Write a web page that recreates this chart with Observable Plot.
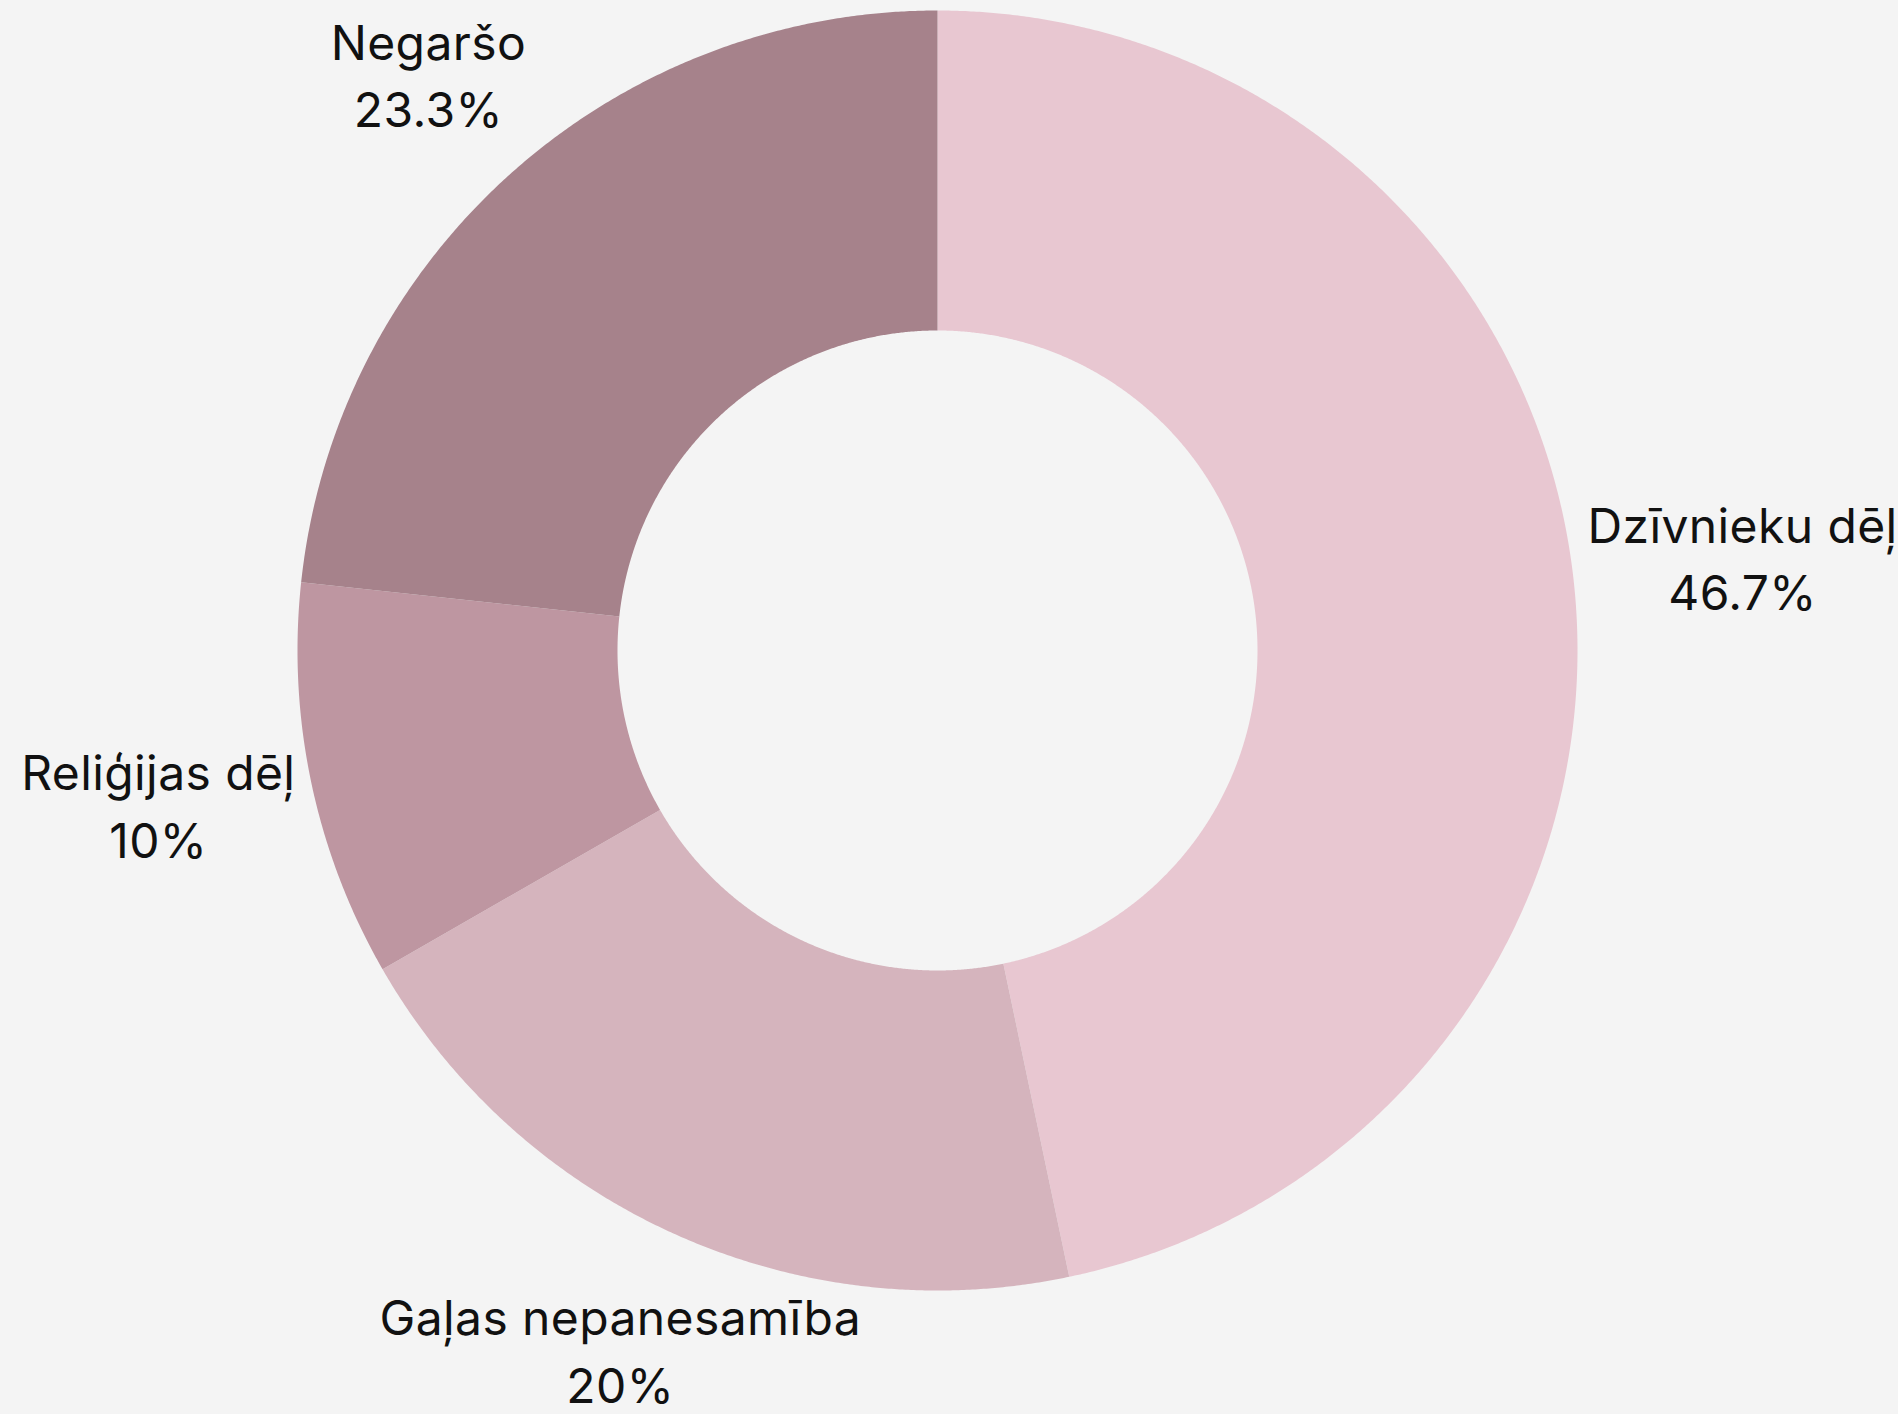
<!DOCTYPE html>
<html>
<head>
<meta charset="utf-8">
<script src="https://cdn.jsdelivr.net/npm/d3@7"></script>
<script src="https://cdn.jsdelivr.net/npm/@observablehq/plot@0.6"></script>
<style>
  html, body { margin: 0; padding: 0; background: #f4f4f4; }
  #chart svg { display: block; }
</style>
</head>
<body>
<div id="chart"></div>
<script>
// Data
const categories = ["Dzīvnieku dēļ", "Gaļas nepanesamība", "Reliģijas dēļ", "Negaršo"];
const values = [46.7, 20, 10, 23.3];
const pctLabels = ["46.7%", "20%", "10%", "23.3%"];
const colors = ["#e8c7d1", "#d5b4bd", "#be96a1", "#a6828b"];

// Layout
const W = 1898, H = 1414;
const CX = 937, CY = 650, R = 640;
const INNER = 0.5;        // inner radius fraction
const FONT_SIZE = 48;
const LINE_H = 1.41;
const FONT = "Inter, 'Noto Sans', sans-serif";
const GAP = 13;           // px between ring and label box
const BOX_H = FONT_SIZE * LINE_H + FONT_SIZE * 0.78 + 16;
const TEXT_DY = -12;

const pie = d3.pie().sort(null).value(d => d)(values);

// Slice outlines in unit coordinates (derived from pie angles)
const outline = [];
pie.forEach((p, i) => {
  const a0 = p.startAngle, a1 = p.endAngle;
  const n = Math.max(8, Math.ceil((a1 - a0) / (Math.PI / 720)));
  for (let k = 0; k <= n; k++) {
    const a = a0 + (a1 - a0) * k / n;
    outline.push({cat: categories[i], x: Math.sin(a), y: Math.cos(a)});
  }
  for (let k = n; k >= 0; k--) {
    const a = a0 + (a1 - a0) * k / n;
    outline.push({cat: categories[i], x: INNER * Math.sin(a), y: INNER * Math.cos(a)});
  }
});

// Label placement: box centred on the mid-angle ray, pushed out until clear of the ring
const ctx = document.createElement("canvas").getContext("2d");
ctx.font = `${FONT_SIZE}px Inter`;
function labelDist(theta, w, h) {
  const s = Math.sin(theta), c = Math.cos(theta);
  let lo = 0, hi = 3 * R;
  for (let it = 0; it < 60; it++) {
    const t = (lo + hi) / 2;
    const dx = Math.max(Math.abs(t * s) - w / 2, 0);
    const dy = Math.max(Math.abs(t * c) - h / 2, 0);
    if (Math.hypot(dx, dy) < R + GAP) lo = t; else hi = t;
  }
  return (lo + hi) / 2;
}
const labels = pie.map((p, i) => {
  const a = (p.startAngle + p.endAngle) / 2;
  const w = Math.max(ctx.measureText(categories[i]).width, ctx.measureText(pctLabels[i]).width);
  const t = labelDist(a, w, BOX_H) / R;
  return {text: categories[i] + "\n" + pctLabels[i], x: t * Math.sin(a), y: t * Math.cos(a)};
});

const chart = Plot.plot({
  width: W,
  height: H,
  margin: 0,
  style: {background: "#f4f4f4", fontFamily: FONT, letterSpacing: "0.4px"},
  x: {domain: [-CX / R, (W - CX) / R], axis: null},
  y: {domain: [-(H - CY) / R, CY / R], axis: null},
  color: {domain: categories, range: colors},
  marks: [
    Plot.line(outline, {x: "x", y: "y", z: "cat", fill: "cat", stroke: "none", curve: "linear"}),
    Plot.text(labels, {x: "x", y: "y", text: "text", fontSize: FONT_SIZE, lineHeight: LINE_H,
      lineAnchor: "middle", textAnchor: "middle", dy: TEXT_DY, fill: "#111111"})
  ]
});
document.getElementById("chart").appendChild(chart);
</script>
</body>
</html>
